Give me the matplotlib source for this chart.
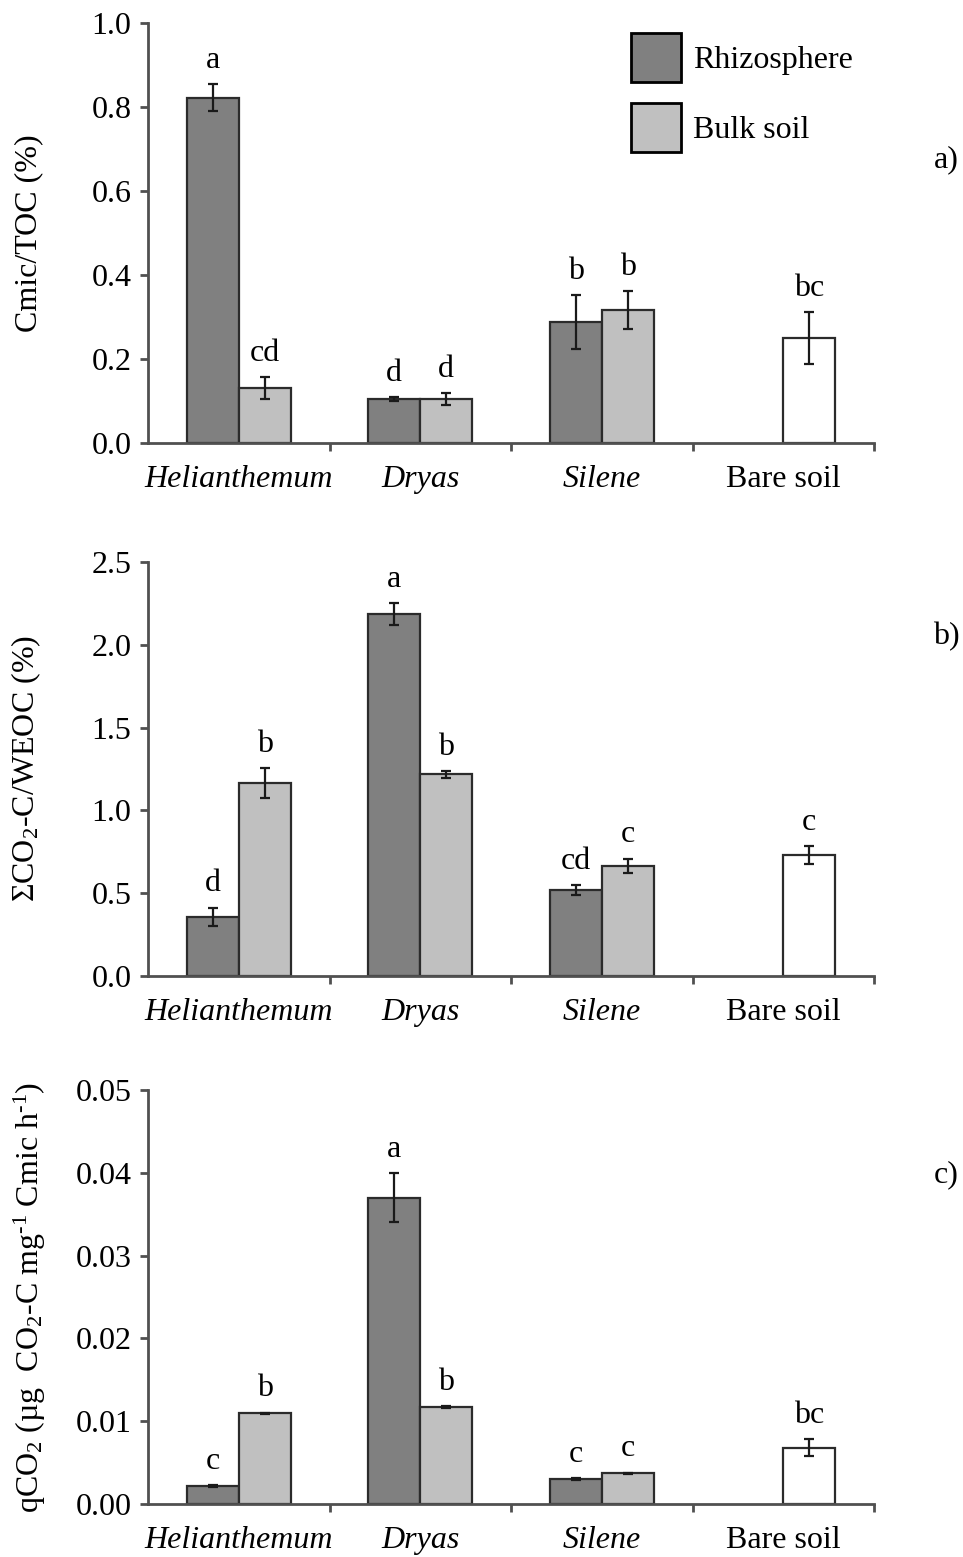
"""
Microbial indices in rhizosphere vs bulk soil, three stacked bar panels
"""
import matplotlib
matplotlib.use('Agg')
import matplotlib.pyplot as plt
from matplotlib.patches import Patch
import numpy as np

plt.rcParams['font.family'] = ['Liberation Serif', 'DejaVu Serif']
plt.rcParams['mathtext.fontset'] = 'custom'
plt.rcParams['mathtext.rm'] = 'Liberation Serif'
plt.rcParams['mathtext.it'] = 'Liberation Serif:italic'

categories = ['Helianthemum', 'Dryas', 'Silene', 'Bare soil']
italic_cats = [True, True, True, False]

# panel a) Cmic/TOC
cmic_rhizo = [0.822, 0.104, 0.288]
cmic_rhizo_err = [0.032, 0.005, 0.064]
cmic_bulk = [0.130, 0.104, 0.317, 0.250]   # last value = bare soil
cmic_bulk_err = [0.026, 0.014, 0.045, 0.062]
cmic_rhizo_letters = ['a', 'd', 'b']
cmic_bulk_letters = ['cd', 'd', 'b', 'bc']

# panel b) sum CO2-C / WEOC
co2_rhizo = [0.358, 2.186, 0.519]
co2_rhizo_err = [0.055, 0.068, 0.030]
co2_bulk = [1.167, 1.218, 0.664, 0.729]
co2_bulk_err = [0.090, 0.020, 0.045, 0.054]
co2_rhizo_letters = ['d', 'a', 'cd']
co2_bulk_letters = ['b', 'b', 'c', 'c']

# panel c) qCO2
q_rhizo = [0.00217, 0.0370, 0.00298]
q_rhizo_err = [0.0001, 0.0030, 0.0001]
q_bulk = [0.01095, 0.01168, 0.0037, 0.0068]
q_bulk_err = [0.0001, 0.0001, 0.0001, 0.0010]
q_rhizo_letters = ['c', 'a', 'c']
q_bulk_letters = ['b', 'b', 'c', 'bc']

DARK = '#808080'
LIGHT = '#c0c0c0'
EDGE = '#2b2b2b'
AXIS = '#505050'
FS = 23
BAR_W = 0.286


def draw_panel(ax, rhizo, rhizo_err, bulk, bulk_err, r_letters, b_letters,
               ymax, ystep, fmt, ylabel):
    """Draw one grouped bar panel"""
    centers = np.arange(len(categories)) + 0.5
    xr = centers[:len(rhizo)] - BAR_W / 2
    xb = centers[:len(bulk)] + BAR_W / 2
    bulk_colors = [LIGHT] * (len(bulk) - 1) + ['white']

    ax.bar(xr, rhizo, BAR_W, color=DARK, edgecolor=EDGE, linewidth=1.6, zorder=2)
    ax.bar(xb, bulk, BAR_W, color=bulk_colors, edgecolor=EDGE, linewidth=1.6, zorder=2)
    ax.errorbar(xr, rhizo, yerr=rhizo_err, fmt='none', ecolor='#1a1a1a',
                elinewidth=1.6, capsize=3.5, capthick=1.6, zorder=3)
    ax.errorbar(xb, bulk, yerr=bulk_err, fmt='none', ecolor='#1a1a1a',
                elinewidth=1.6, capsize=3.5, capthick=1.6, zorder=3)

    # significance letters above the error bars
    for x, v, e, t in zip(xr, rhizo, rhizo_err, r_letters):
        ax.annotate(t, (x, v + e), xytext=(0, 17), textcoords='offset points',
                    ha='center', va='center', fontsize=FS)
    for x, v, e, t in zip(xb, bulk, bulk_err, b_letters):
        ax.annotate(t, (x, v + e), xytext=(0, 17), textcoords='offset points',
                    ha='center', va='center', fontsize=FS)

    ax.set_xlim(0, len(categories))
    ax.set_ylim(0, ymax)
    ticks = np.arange(0, ymax + ystep / 2, ystep)
    ax.set_yticks(ticks)
    ax.set_yticklabels([fmt.format(t) for t in ticks], fontsize=FS)

    ax.set_xticks(np.arange(1, len(categories) + 1))
    ax.set_xticklabels([])
    ax.set_xticks(centers, minor=True)
    ax.set_xticklabels(categories, minor=True, fontsize=FS)
    for lab, it in zip(ax.get_xticklabels(minor=True), italic_cats):
        if it:
            lab.set_style('italic')
    ax.tick_params(axis='x', which='minor', length=0, pad=16)
    ax.tick_params(axis='x', which='major', length=6, width=2, color=AXIS, direction='out')
    ax.tick_params(axis='y', length=6, width=2, color=AXIS, direction='out', pad=6)

    for side in ['top', 'right']:
        ax.spines[side].set_visible(False)
    for side in ['left', 'bottom']:
        ax.spines[side].set_color(AXIS)
        ax.spines[side].set_linewidth(2)
    ax.set_ylabel(ylabel, fontsize=FS)


fig = plt.figure(figsize=(9.63, 15.57), dpi=100)
left, width = 148 / 963, 726 / 963
ax_a = fig.add_axes([left, 1 - 443 / 1557, width, 420 / 1557])
ax_b = fig.add_axes([left, 1 - 976 / 1557, width, 414 / 1557])
ax_c = fig.add_axes([left, 1 - 1504 / 1557, width, 414 / 1557])

draw_panel(ax_a, cmic_rhizo, cmic_rhizo_err, cmic_bulk, cmic_bulk_err,
           cmic_rhizo_letters, cmic_bulk_letters, 1.0, 0.2, '{:.1f}', 'Cmic/TOC (%)')
draw_panel(ax_b, co2_rhizo, co2_rhizo_err, co2_bulk, co2_bulk_err,
           co2_rhizo_letters, co2_bulk_letters, 2.5, 0.5, '{:.1f}',
           'ΣCO$_2$-C/WEOC (%)')
draw_panel(ax_c, q_rhizo, q_rhizo_err, q_bulk, q_bulk_err,
           q_rhizo_letters, q_bulk_letters, 0.05, 0.01, '{:.2f}',
           'qCO$_2$ (µg  CO$_2$-C mg$^{\\text{-1}}$ Cmic h$^{\\text{-1}}$)')

ax_a.yaxis.set_label_coords(-0.145, 0.5)
ax_b.yaxis.set_label_coords(-0.145, 0.5)
ax_c.yaxis.set_label_coords(-0.138, 0.5)

# legend (top panel only)
handles = [Patch(facecolor=DARK, edgecolor='black', linewidth=2, label='Rhizosphere'),
           Patch(facecolor=LIGHT, edgecolor='black', linewidth=2, label='Bulk soil')]
fig.legend(handles=handles, loc='upper left', bbox_to_anchor=(631 / 963, 1 - 33 / 1557),
           frameon=False, fontsize=FS, handlelength=1.55, handleheight=2.0,
           labelspacing=0.64, handletextpad=0.4, borderpad=0, borderaxespad=0)

# panel labels
fig.text(946 / 963, 1 - 160 / 1557, 'a)', fontsize=FS, ha='center', va='center')
fig.text(946 / 963, 1 - 637 / 1557, 'b)', fontsize=FS, ha='center', va='center')
fig.text(946 / 963, 1 - 1175 / 1557, 'c)', fontsize=FS, ha='center', va='center')

fig.savefig('out.png', dpi=100)
